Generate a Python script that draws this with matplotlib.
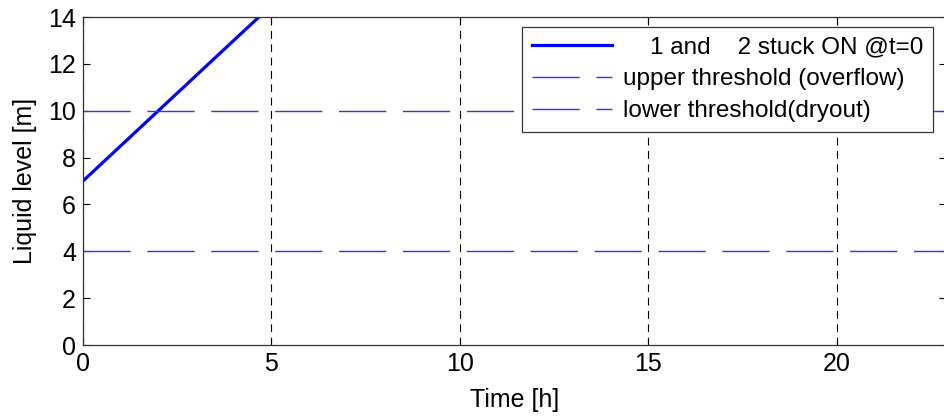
import matplotlib
matplotlib.use("Agg")
import matplotlib.pyplot as plt

plt.rcParams['font.family'] = ['Liberation Sans', 'DejaVu Sans']

time_h = [0, 1, 2, 3, 4, 4.67]
level_m = [7, 8.5, 10, 11.5, 13, 14]
upper_threshold = 10
lower_threshold = 4
x_ticks = [0, 5, 10, 15, 20]
y_ticks = [0, 2, 4, 6, 8, 10, 12, 14]
labels = ['    1 and    2 stuck ON @t=0', 'upper threshold (overflow)', 'lower threshold(dryout)']

fig = plt.figure(figsize=(9.44, 4.19), dpi=100)
ax = fig.add_axes([83/944, 1-345/419, 1-83/944+0.002, (345-17)/419])

ax.plot(time_h, level_m, color='#0000ff', lw=2.3, label=labels[0])
ax.axhline(upper_threshold, color='#3030ff', lw=1.0, ls=(0, (34, 12)), label=labels[1])
ax.axhline(lower_threshold, color='#3030ff', lw=1.0, ls=(0, (34, 12)), label=labels[2])

ax.set_xlim(0, 22.9)
ax.set_ylim(0, 14)
ax.set_xticks(x_ticks)
ax.set_yticks(y_ticks)
ax.xaxis.grid(True, color='black', ls=(0, (7, 5)), lw=0.8)
ax.tick_params(direction='in', labelsize=18, length=5, top=True, right=True, width=0.8, pad=5)
for s in ax.spines.values():
    s.set_color('#333333')
    s.set_linewidth(0.9)
ax.set_xlabel('Time [h]', fontsize=18, labelpad=9)
ax.set_ylabel('Liquid level [m]', fontsize=18, labelpad=8)

leg = ax.legend(loc='upper right', bbox_to_anchor=(0.985, 0.97), fontsize=17.5,
                fancybox=False, framealpha=1, edgecolor='#333333',
                handlelength=3.3, borderpad=0.4, labelspacing=0.4, handletextpad=0.45,
                borderaxespad=0)
leg.get_frame().set_linewidth(0.9)

fig.savefig('out.png', dpi=100)
